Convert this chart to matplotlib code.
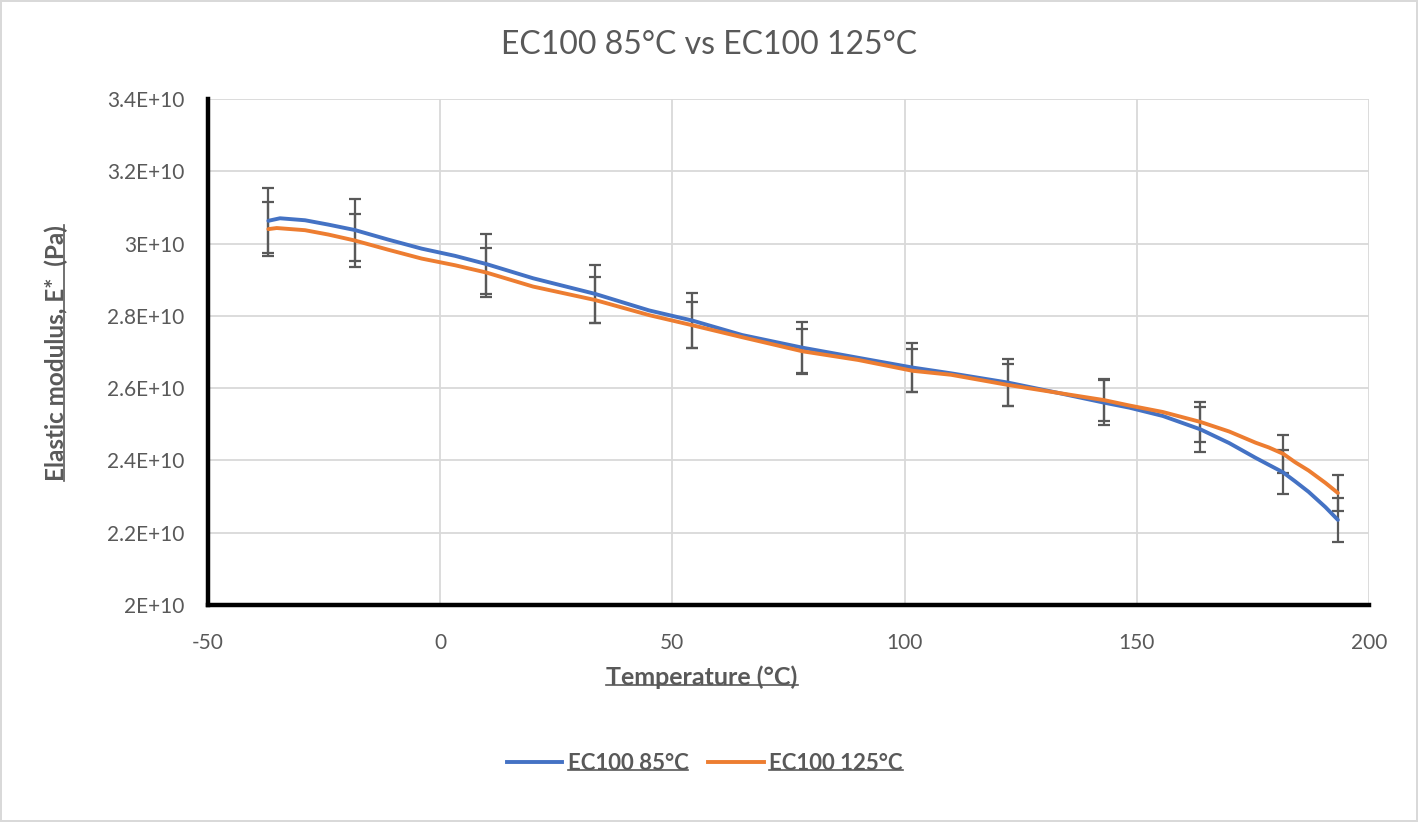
import matplotlib
matplotlib.use("Agg")
import matplotlib.pyplot as plt
from matplotlib.lines import Line2D

plt.rcParams['font.family'] = ['Lato', 'DejaVu Sans']
plt.rcParams['axes.unicode_minus'] = False

grey = '#595959'
blue = '#4472C4'
orange = '#ED7D31'

# smoothed curves (temperature in °C, E* in units of 1E+10 Pa)
temp_85 = [-37, -34.5, -29.1, -24.1, -18.4, -11.2, -4, 3.2, 9.9, 20, 33.3, 45, 54.3, 65,
           78, 90, 101.7, 110, 122.2, 133, 142.9, 148.4, 155.6, 163.7, 169.9, 175.6,
           178.4, 181.5, 184.1, 187, 190.6, 193.3]
e_85 = [3.063, 3.070, 3.0645, 3.0525, 3.0375, 3.011, 2.986, 2.966, 2.9435, 2.904, 2.861,
        2.815, 2.787, 2.747, 2.712, 2.684, 2.657, 2.641, 2.6155, 2.587, 2.560, 2.546,
        2.523, 2.486, 2.448, 2.407, 2.388, 2.367, 2.342, 2.313, 2.271, 2.2355]
temp_125 = [-37, -35.2, -29.1, -24.1, -18.4, -11.2, -4, 3.2, 9.9, 20, 33.3, 45, 54.3, 65,
            78, 90, 101.7, 110, 122.2, 133, 142.9, 148.4, 155.6, 163.7, 169.9, 175.6,
            178.4, 181.5, 184.1, 187, 190.6, 193.3]
e_125 = [3.040, 3.043, 3.037, 3.025, 3.0085, 2.983, 2.9585, 2.940, 2.920, 2.881, 2.844,
         2.802, 2.774, 2.741, 2.702, 2.678, 2.648, 2.637, 2.609, 2.587, 2.567, 2.552,
         2.534, 2.5065, 2.480, 2.449, 2.436, 2.4185, 2.395, 2.372, 2.338, 2.310]

# measured points with standard deviation
bar_temp = [-37, -18.4, 9.9, 33.3, 54.3, 78, 101.7, 122.2, 142.9, 163.7, 181.5, 193.3]
bar_85 = [3.063, 3.0375, 2.9435, 2.861, 2.787, 2.712, 2.657, 2.6155, 2.560, 2.486, 2.367, 2.2355]
err_85 = [0.090, 0.087, 0.0825, 0.080, 0.077, 0.071, 0.069, 0.0645, 0.062, 0.063, 0.061, 0.060]
bar_125 = [3.040, 3.0085, 2.920, 2.844, 2.774, 2.702, 2.648, 2.609, 2.567, 2.5065, 2.4185, 2.310]
err_125 = [0.074, 0.072, 0.067, 0.064, 0.064, 0.063, 0.060, 0.058, 0.057, 0.0545, 0.052, 0.050]

y_ticks = [2.0e10, 2.2e10, 2.4e10, 2.6e10, 2.8e10, 3.0e10, 3.2e10, 3.4e10]
y_tick_labels = ['2E+10', '2.2E+10', '2.4E+10', '2.6E+10', '2.8E+10', '3E+10', '3.2E+10', '3.4E+10']
x_ticks = [-50, 0, 50, 100, 150, 200]

scale = 1e10

fig = plt.figure(figsize=(14.18, 8.22), dpi=100)
fig.patch.set_edgecolor('#d9d9d9')
fig.patch.set_linewidth(1.5)
ax = fig.add_axes([208 / 1418, 1 - 605 / 822, (1369 - 208) / 1418, (605 - 99) / 822])

ax.errorbar(bar_temp, [v * scale for v in bar_85], yerr=[e * scale for e in err_85],
            fmt='none', ecolor=grey, elinewidth=1.6, capsize=4.5, capthick=1.6, zorder=2)
ax.errorbar(bar_temp, [v * scale for v in bar_125], yerr=[e * scale for e in err_125],
            fmt='none', ecolor=grey, elinewidth=1.6, capsize=4.5, capthick=1.6, zorder=2)
ax.plot(temp_85, [v * scale for v in e_85], color=blue, lw=2.8, zorder=3,
        solid_capstyle='round', solid_joinstyle='round')
ax.plot(temp_125, [v * scale for v in e_125], color=orange, lw=2.8, zorder=3,
        solid_capstyle='round', solid_joinstyle='round')

ax.set_xlim(-50, 200)
ax.set_ylim(2.0e10, 3.4e10)
ax.set_xticks(x_ticks)
ax.set_yticks(y_ticks)
ax.set_yticklabels(y_tick_labels)
ax.tick_params(length=0, labelsize=15, labelcolor=grey)
ax.tick_params(axis='y', pad=17)
ax.tick_params(axis='x', pad=20)
ax.grid(True, color='#d9d9d9', lw=1.3)
ax.set_axisbelow(True)
for s in ['top', 'right']:
    ax.spines[s].set_visible(False)
for s in ['left', 'bottom']:
    ax.spines[s].set_linewidth(3.2)
    ax.spines[s].set_color('black')
    ax.spines[s].set_zorder(4)

fig.text(0.5, 1 - 45 / 822, 'EC100 85°C vs EC100 125°C', ha='center', va='center',
         fontsize=23, color=grey)
xl = fig.text(702 / 1418, 1 - 677 / 822, 'Temperature (°C)', ha='center', va='center',
              fontsize=18, fontweight='bold', color=grey)
yl = fig.text(56 / 1418, 1 - 353 / 822, 'Elastic modulus, E*  (Pa)', ha='center', va='center',
              rotation=90, fontsize=17.5, fontweight='bold', color=grey)

handles = [Line2D([], [], color=blue, lw=2.8), Line2D([], [], color=orange, lw=2.8)]
leg = fig.legend(handles, ['EC100 85°C', 'EC100 125°C'], loc='center',
                 bbox_to_anchor=(0.497, 1 - 763 / 822), ncol=2, frameon=False,
                 handlelength=2.5, handletextpad=0.25, columnspacing=0.9,
                 prop={'size': 16, 'weight': 'bold'})
for t in leg.get_texts():
    t.set_color(grey)

# underline the bold labels
fig.canvas.draw()
r = fig.canvas.get_renderer()
W, H = fig.bbox.width, fig.bbox.height
for t in [xl] + list(leg.get_texts()):
    bb = t.get_window_extent(r)
    y = bb.y0 + 3.5
    fig.add_artist(Line2D([bb.x0 / W, bb.x1 / W], [y / H, y / H], color=grey, lw=1.2,
                          transform=fig.transFigure))
bb = yl.get_window_extent(r)
x = bb.x1 - 3.5
fig.add_artist(Line2D([x / W, x / W], [bb.y0 / H, bb.y1 / H], color=grey, lw=1.2,
                      transform=fig.transFigure))

fig.savefig('out.png', dpi=100)
